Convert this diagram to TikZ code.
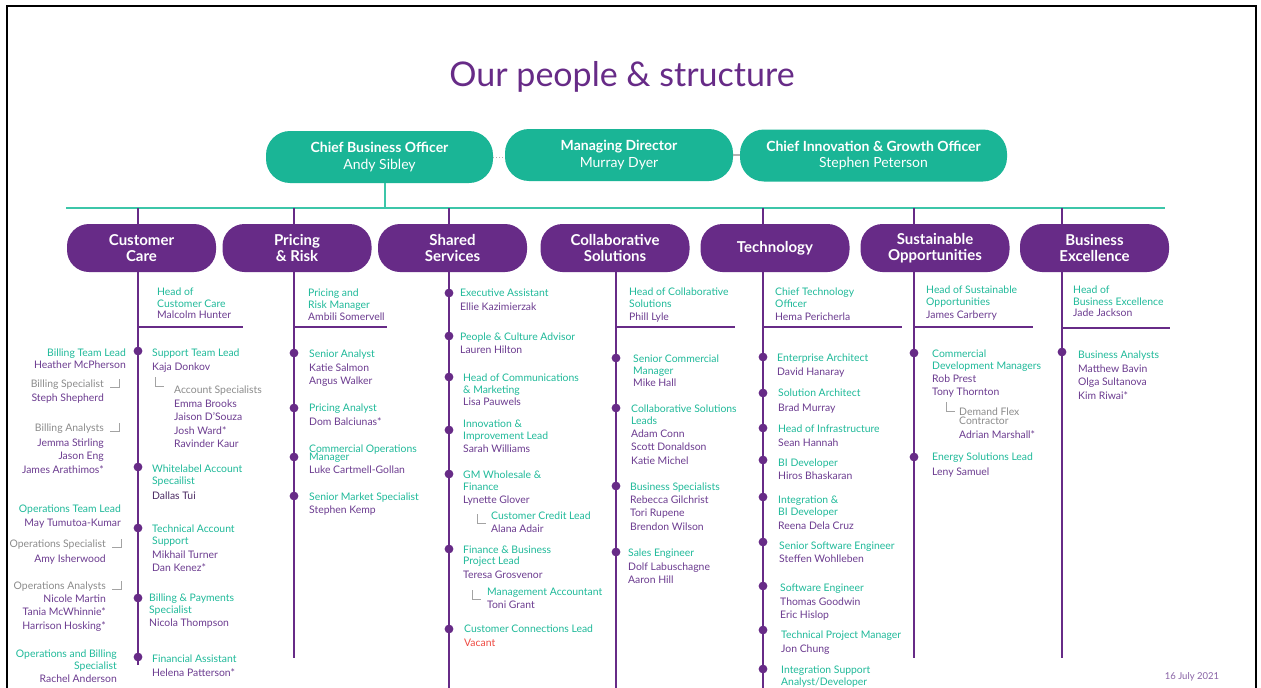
\documentclass[tikz,border=0pt]{standalone}
\usepackage{fontspec}
\setmainfont{Lato}
\usetikzlibrary{calc,positioning}
\definecolor{brandTeal}{HTML}{1AB596}
\definecolor{barTeal}{HTML}{3CC6A9}
\definecolor{brandPurple}{HTML}{672B87}
\definecolor{txtTeal}{HTML}{20BA9A}
\definecolor{txtPurple}{HTML}{6C3C90}
\definecolor{darkPurple}{HTML}{4B2B63}
\definecolor{txtGray}{HTML}{8C8C8C}
\definecolor{vacantRed}{HTML}{EE4A42}

\begin{document}
\begin{tikzpicture}[x=1pt,y=-1pt,
  topbox/.style={fill=brandTeal,text=white,rounded corners=24pt,minimum height=52pt,align=center,font=\fontsize{14}{16.5}\selectfont,inner sep=0pt},
  dept/.style={fill=brandPurple,text=white,rounded corners=22pt,minimum width=149pt,minimum height=48pt,align=center,font=\bfseries\fontsize{15}{16.5}\selectfont,inner sep=0pt},
  role/.style={text=txtTeal,align=left,inner sep=0pt,font=\fontsize{10.4}{11.8}\selectfont},
  sub/.style={role,text=txtGray},
  who/.style={text=txtPurple,align=left,inner sep=0pt,font=\fontsize{10.4}{13.4}\selectfont},
  colline/.style={brandPurple,line width=1.8pt},
  barline/.style={barTeal,line width=1.8pt},
  headline/.style={brandPurple,line width=1.5pt},
  elbow/.style={txtGray!80,line width=1pt},
  dotc/.style={fill=brandPurple}]

\useasboundingbox (0,0) rectangle (1261,688);
\fill[white] (0,0) rectangle (1261,688);
\draw[line width=2.6pt] (7,6) rectangle (1256,700);

\node[text=brandPurple,font=\fontsize{34}{38}\selectfont,anchor=base] (heading) at (622,86) {Our people \& structure};

% draw the leadership row
\node[topbox,minimum width=227pt] (cbo) at (379.5,157) {\textbf{Chief Business Officer}\\Andy Sibley};
\node[topbox,minimum width=228pt] (md) at (619,155) {\textbf{Managing Director}\\Murray Dyer};
\node[topbox,minimum width=267pt] (cigo) at (873.5,155.5) {\textbf{Chief Innovation \& Growth Officer}\\Stephen Peterson};
\draw[gray!60,dotted,line width=1pt] (cbo.east) -- (cbo.east -| md.west);
\draw[gray!60,line width=1.5pt] (md.east) -- (md.east -| cigo.west);

% the teal bar
\coordinate (barL) at (66,208);
\coordinate (barR) at (1165,208);
\coordinate (cboDrop) at (385,208);
\draw[barline] (barL) -- (barR);
\draw[barline] (cboDrop |- cbo.south) -- (cboDrop);

% draw the departments and their lines
\foreach \nm/\cx/\lbl/\lx/\ly/\up in {
  cc/141.5/{Customer\\Care}/138/665/1,
  pr/297/{Pricing\\\& Risk}/294/658/1,
  ss/452.5/{Shared\\Services}/449/692/1,
  cs/615/{Collaborative\\Solutions}/616/692/0,
  te/775/{Technology}/763/692/1,
  so/935/{Sustainable\\Opportunities}/914/658/1,
  be/1094.5/{Business\\Excellence}/1062/658/1}
{
  \node[dept] (\nm) at (\cx,248) {\lbl};
  \coordinate (\nm-top) at (\lx,208);
  \coordinate (\nm-end) at (\lx,\ly);
  \ifnum\up=1 \draw[colline] (\nm-top) -- (\nm-top |- \nm.north); \fi
  \draw[colline] (\nm-end |- \nm.south) -- (\nm-end);
}

% heads of department
\foreach \lx/\tx/\ty/\ttl/\ny/\pp/\uy/\ux [count=\ni] in {
  138/157/291/{Head of\\Customer Care}/314/{Malcolm Hunter}/327/243,
  294/308/292/{Pricing and\\Risk Manager}/316/{Ambili Somervell}/327/387,
  616/629/291/{Head of Collaborative\\Solutions}/316/{Phill Lyle}/327/735,
  763/775/291/{Chief Technology\\Officer}/316/{Hema Pericherla}/327/902,
  914/926/289/{Head of Sustainable\\Opportunities}/314/{James Carberry}/327/1033,
  1062/1073/289/{Head of\\Business Excellence}/312/{Jade Jackson}/328/1170}
{
  \node[role,anchor=north west] (h\ni) at (\tx,\ty-3.6) {\ttl};
  \node[who,anchor=north west] (hn\ni) at (\tx,\ny-3.6) {\pp};
  \coordinate (hl\ni) at (\lx,\uy);
  \coordinate (hr\ni) at (\ux,\uy);
  \draw[headline] (hl\ni) -- (hr\ni);
}

% staff on the lines
\foreach \lx/\tx/\dy/\ry/\rl/\ny/\pp [count=\ni] in {
  138/152/351/352/{Support Team Lead}/366/{Kaja Donkov},
  138/152/467/468/{Whitelabel Account\\Specailist}/495/{\color{darkPurple}Dallas Tui},
  138/152/528/528/{Technical Account\\Support}/554/{Mikhail Turner\\Dan Kenez*},
  138/149/598/597/{Billing \& Payments\\Specialist}/622/{Nicola Thompson},
  138/152/657/658/{Financial Assistant}/672/{Helena Patterson*},
  294/309/353/353/{Senior Analyst}/367/{Katie Salmon\\Angus Walker},
  294/309/408/407/{Pricing Analyst}/421/{Dom Balciunas*},
  294/309/457/448/{Commercial Operations\\[-3.5pt]Manager}/469/{Luke Cartmell-Gollan},
  294/309/496/496/{Senior Market Specialist}/509/{Stephen Kemp},
  449/460/293/292/{Executive Assistant}/306/{Ellie Kazimierzak},
  449/460/336/336/{People \& Culture Advisor}/349/{Lauren Hilton},
  449/463/377/377/{Head of Communications\\\& Marketing}/401/{Lisa Pauwels},
  449/463/430/423/{Innovation \&\\Improvement Lead}/448/{Sarah Williams},
  449/463/474/474/{GM Wholesale \&\\Finance}/499/{Lynette Glover},
  449/463/549/549/{Finance \& Business\\Project Lead}/574/{Teresa Grosvenor},
  449/464/629/628/{Customer Connections Lead}/642/{\color{vacantRed}Vacant},
  616/633/358/358/{Senior Commercial\\Manager}/382/{Mike Hall},
  616/631/408/408/{Collaborative Solutions\\Leads}/433/{Adam Conn\\Scott Donaldson\\Katie Michel},
  616/630/486/486/{Business Specialists}/499/{Rebecca Gilchrist\\Tori Rupene\\Brendon Wilson},
  616/628/552/552/{Sales Engineer}/566/{Dolf Labuschagne\\Aaron Hill},
  763/777/357/357/{Enterprise Architect}/371/{David Hanaray},
  763/778/393/392/{Solution Architect}/407/{Brad Murray},
  763/778/428/428/{Head of Infrastructure}/442/{Sean Hannah},
  763/778/460/462/{BI Developer}/475/{Hiros Bhaskaran},
  763/778/497/499/{Integration \&\\BI Developer}/525/{Reena Dela Cruz},
  763/779/542/545/{Senior Software Engineer}/558/{Steffen Wohlleben},
  763/780/586/587/{Software Engineer}/601/{Thomas Goodwin\\Eric Hislop},
  763/781/630/634/{Technical Project Manager}/648/{Jon Chung},
  763/781/669/669/{Integration Support\\Analyst/Developer}/681/{},
  914/932/353/353/{Commercial\\Development Managers}/378/{Rob Prest\\Tony Thornton},
  914/932/457/456/{Energy Solutions Lead}/471/{Leny Samuel},
  1062/1078/352/354/{Business Analysts}/368/{Matthew Bavin\\Olga Sultanova\\Kim Riwai*}}
{
  \fill[dotc] (\lx,\dy) circle (4.4pt);
  \node[role,anchor=north west] (r\ni) at (\tx,\ry-3.6) {\rl};
  \node[who,anchor=north west] (n\ni) at (\tx,\ny-3.6) {\pp};
}

% sub roles with an elbow
\foreach \mx/\my/\tx/\ry/\rl/\ny/\pp/\rs [count=\ni] in {
  155/386/174/389/{Account Specialists}/403/{Emma Brooks\\Jaison D'Souza\\Josh Ward*\\Ravinder Kaur}/sub,
  477/523/491/515/{Customer Credit Lead}/528/{Alana Adair}/role,
  472/599/487/591/{Management Accountant}/604/{Toni Grant}/role,
  946/411/959/411/{Demand Flex\\[-2.8pt]Contractor}/434/{Adrian Marshall*}/sub}
{
  \draw[elbow] (\mx,\my-9) -- (\mx,\my) -- (\mx+9,\my);
  \node[\rs,anchor=north west] (s\ni) at (\tx,\ry-3.6) {\rl};
  \node[who,anchor=north west] (sn\ni) at (\tx,\ny-3.6) {\pp};
}

% the left hand side of customer care
\foreach \tx/\ry/\rl/\ny/\pp/\rs [count=\ni] in {
  126/352/{Billing Team Lead}/364/{Heather McPherson}/role,
  104/383/{Billing Specialist}/397/{Steph Shepherd}/sub,
  104/427/{Billing Analysts}/442/{Jemma Stirling\\Jason Eng\\James Arathimos*}/sub,
  121/508/{Operations Team Lead}/522/{May Tumutoa-Kumar}/role,
  106/543/{Operations Specialist}/558/{Amy Isherwood}/sub,
  106/585/{Operations Analysts}/598/{Nicole Martin\\Tania McWhinnie*\\Harrison Hosking*}/sub,
  117/653/{Operations and Billing\\Specialist}/678/{Rachel Anderson}/role}
{
  \node[\rs,align=right,anchor=north east] (l\ni) at (\tx,\ry-3.6) {\rl};
  \node[who,align=right,anchor=north east] (ln\ni) at (\tx,\ny-3.6) {\pp};
}
\foreach \mx/\my in {119/387,119/431,121/547,121/589}
  \draw[elbow] (\mx-9,\my) -- (\mx,\my) -- (\mx,\my-8);

\node[text=txtPurple!80,font=\fontsize{9.5}{11}\selectfont] (stamp) at (1192,677) {16 July 2021};

\end{tikzpicture}
\end{document}
